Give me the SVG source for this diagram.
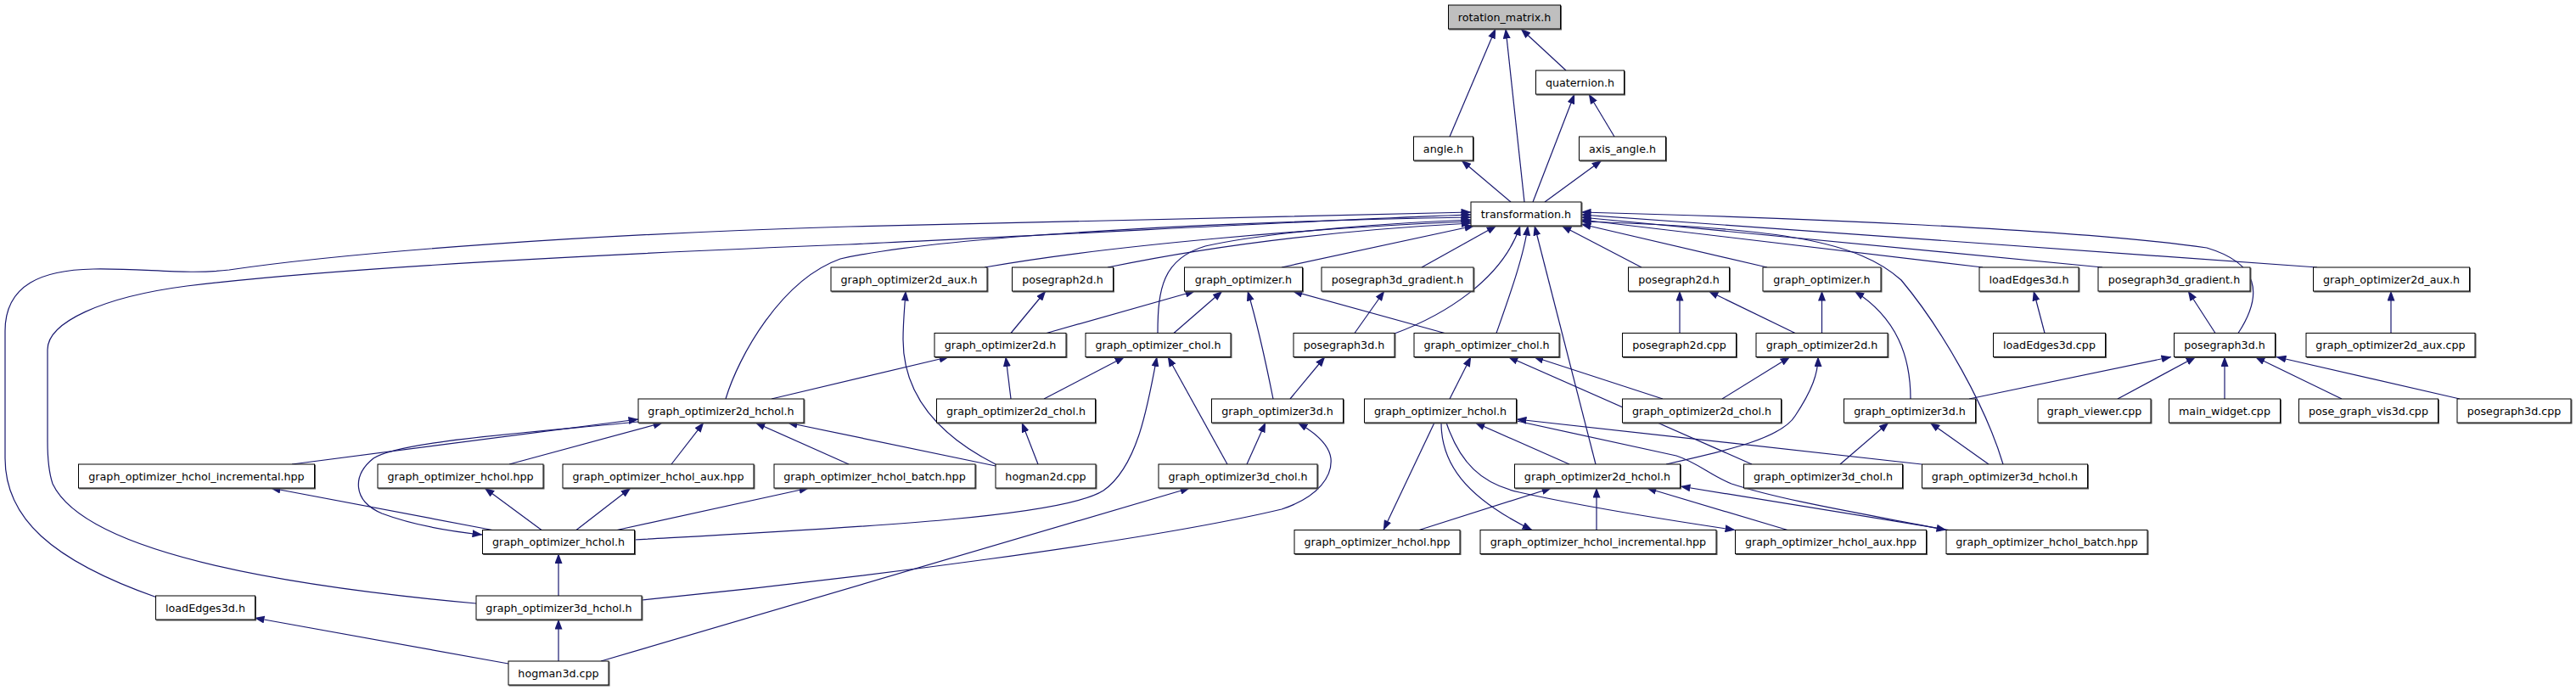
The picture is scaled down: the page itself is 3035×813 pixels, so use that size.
<svg xmlns="http://www.w3.org/2000/svg" width="3035" height="813" viewBox="0 0 3035 813">
<defs>
<marker id="ah" viewBox="0 0 12 9" refX="11.5" refY="4.5" markerWidth="12" markerHeight="9" markerUnits="userSpaceOnUse" orient="auto"><path d="M0,0L12,4.5L0,9z" fill="#191970"/></marker>
<filter id="sh" x="-5%" y="-20%" width="115%" height="150%"><feFlood flood-color="#555555"/><feComposite in2="SourceAlpha" operator="in"/><feOffset dx="1.2" dy="1.2"/><feMerge><feMergeNode/><feMergeNode in="SourceGraphic"/></feMerge></filter>
</defs>
<style>
.e{fill:none;stroke:#191970;stroke-width:1.2;marker-end:url(#ah)}
.n rect{fill:#fff;stroke:#000;stroke-width:1;filter:url(#sh)}
.n rect.root{fill:#bfbfbf}
.n text{font-family:"DejaVu Sans",sans-serif;font-size:12.7px;text-anchor:middle;fill:#000}
</style>
<rect width="3035" height="813" fill="#fff"/>
<g id="edges">
<path class="e" d="M1708,161 L1762,34"/>
<path class="e" d="M1796,238 L1774,34"/>
<path class="e" d="M1845,83 L1792,34"/>
<path class="e" d="M1780,238 L1722,189"/>
<path class="e" d="M1806,238 L1855,111"/>
<path class="e" d="M1902,161 L1872,111"/>
<path class="e" d="M1820,238 L1887,189"/>
<path class="e" d="M185,704 C60,660 6,610 6,540 L6,390 C6,335 50,318 110,317 C170,316 220,324 270,318 C420,296 700,276 1000,267 C1300,259 1600,252 1733,250"/>
<path class="e" d="M561,711 C330,690 100,650 62,570 C57,555 56,540 56,520 L56,412 C56,380 120,350 220,337 C400,315 700,300 1000,288 C1300,274 1600,257 1733,253"/>
<path class="e" d="M855,470 C870,420 920,330 990,305 C1100,280 1400,262 1733,256"/>
<path class="e" d="M1364,392.5 C1364,340 1370,305 1420,290 C1500,272 1650,262 1733,259"/>
<path class="e" d="M1160,315 C1300,290 1550,268 1733,261"/>
<path class="e" d="M1305,315 C1450,285 1600,270 1733,263"/>
<path class="e" d="M1510,315 L1737,266"/>
<path class="e" d="M1675,315 L1763,266"/>
<path class="e" d="M1643,393 C1700,372 1770,330 1791,266"/>
<path class="e" d="M1763,392.5 C1778,350 1796,300 1800,266"/>
<path class="e" d="M1880,547 L1808,266"/>
<path class="e" d="M1934,315 L1840,266"/>
<path class="e" d="M2082,315 L1863,264"/>
<path class="e" d="M2336,315 L1863,259"/>
<path class="e" d="M2477,315 L1863,256"/>
<path class="e" d="M2730,315 L1863,253"/>
<path class="e" d="M2637,392.5 C2668,345 2660,310 2600,292 C2450,270 2100,256 1863,250"/>
<path class="e" d="M2360,547 C2340,480 2290,390 2240,330 C2190,285 2100,268 1863,261"/>
<path class="e" d="M1191,392.5 L1232,343"/>
<path class="e" d="M1233,392.5 L1408,343"/>
<path class="e" d="M1383,392.5 L1440,343"/>
<path class="e" d="M1500,470 C1490,420 1478,370 1470,343"/>
<path class="e" d="M1702,392.5 L1523,343"/>
<path class="e" d="M1596,392.5 L1631,343"/>
<path class="e" d="M1520,470 L1561,420.5"/>
<path class="e" d="M1173,547 C1100,510 1064,460 1064,400 C1064,380 1066,360 1067,343"/>
<path class="e" d="M909,470 L1118,420.5"/>
<path class="e" d="M1191,470 L1185,420.5"/>
<path class="e" d="M1230,470 L1325,420.5"/>
<path class="e" d="M1223,547 L1204,498"/>
<path class="e" d="M1446,547 L1376,420.5"/>
<path class="e" d="M747,636 C1000,622 1250,610 1300,578 C1340,550 1352,480 1363,420.5"/>
<path class="e" d="M1469,547 L1491,498"/>
<path class="e" d="M756,707 C1000,683 1350,638 1510,600 C1555,585 1570,560 1568,540 C1566,525 1550,510 1529,498"/>
<path class="e" d="M708,779 L1402,575"/>
<path class="e" d="M1708,470 L1733,420.5"/>
<path class="e" d="M1959,470 L1807,420.5"/>
<path class="e" d="M2029,470 L2109,420.5"/>
<path class="e" d="M2168,547 L2225,498"/>
<path class="e" d="M2064,547 L1777,420.5"/>
<path class="e" d="M2264,547 L1787,494"/>
<path class="e" d="M1849,547 L1738,498"/>
<path class="e" d="M1690,498 L1630,624.5"/>
<path class="e" d="M1698,498 C1698,545 1725,585 1805,624.5"/>
<path class="e" d="M1704,498 C1720,545 1745,570 1790,580 C1870,598 1960,612 2044,624.5"/>
<path class="e" d="M1787,496 L1975,537 C2000,545 2015,560 2040,570 C2100,590 2200,606 2293,624.5"/>
<path class="e" d="M2296,624.5 L1980,573"/>
<path class="e" d="M1672,624.5 L1828,575"/>
<path class="e" d="M1881,624.5 L1881,575"/>
<path class="e" d="M2106,624.5 L1940,575"/>
<path class="e" d="M1963,547 C2040,530 2100,515 2115,490 C2135,460 2142,440 2142,420.5"/>
<path class="e" d="M2115,392.5 L2013,343"/>
<path class="e" d="M1979,392.5 L1979,343"/>
<path class="e" d="M2146.5,392.5 L2146.5,343"/>
<path class="e" d="M2251,470 C2251,420 2235,375 2185,343"/>
<path class="e" d="M2409,392.5 L2396,343"/>
<path class="e" d="M2610,392.5 L2578,343"/>
<path class="e" d="M2817,392.5 L2817,343"/>
<path class="e" d="M2320,470 L2558,420.5"/>
<path class="e" d="M2495,470 L2587,420.5"/>
<path class="e" d="M2621,470 L2621,420.5"/>
<path class="e" d="M2759,470 L2657,420.5"/>
<path class="e" d="M2898,470 L2682,420.5"/>
<path class="e" d="M2343,547 L2274,498"/>
<path class="e" d="M344,547 L752,494"/>
<path class="e" d="M752,497 C620,510 470,520 440,540 C415,560 415,590 450,605 C490,620 530,626 568,630"/>
<path class="e" d="M600,547 L781,498"/>
<path class="e" d="M791,547 L829,498"/>
<path class="e" d="M1000,547 L890,498"/>
<path class="e" d="M1173,549 L928,498"/>
<path class="e" d="M580,624.5 L319,575"/>
<path class="e" d="M638,624.5 L571,575"/>
<path class="e" d="M679,624.5 L743,575"/>
<path class="e" d="M727,624.5 L953,575"/>
<path class="e" d="M658,702 L658,652.5"/>
<path class="e" d="M658,779 L658,730"/>
<path class="e" d="M599,782 L300,728"/>
</g>
<g id="n_rotation_matrix" class="n"><rect class="root" x="1706.5" y="6" width="132" height="28"/><text x="1772.5" y="24.5">rotation_matrix.h</text></g>
<g id="n_quaternion" class="n"><rect x="1809.5" y="83" width="104" height="28"/><text x="1861.5" y="101.5">quaternion.h</text></g>
<g id="n_angle" class="n"><rect x="1665.5" y="161" width="70" height="28"/><text x="1700.5" y="179.5">angle.h</text></g>
<g id="n_axis_angle" class="n"><rect x="1860.5" y="161" width="102" height="28"/><text x="1911.5" y="179.5">axis_angle.h</text></g>
<g id="n_transformation" class="n"><rect x="1733" y="238" width="130" height="28"/><text x="1798" y="256.5">transformation.h</text></g>
<g id="n_go2d_aux_h_1" class="n"><rect x="979" y="315" width="184" height="28"/><text x="1071" y="333.5">graph_optimizer2d_aux.h</text></g>
<g id="n_posegraph2d_h_1" class="n"><rect x="1192.5" y="315" width="119" height="28"/><text x="1252" y="333.5">posegraph2d.h</text></g>
<g id="n_go_h_1" class="n"><rect x="1395.5" y="315" width="139" height="28"/><text x="1465" y="333.5">graph_optimizer.h</text></g>
<g id="n_pg3d_grad_1" class="n"><rect x="1557" y="315" width="179" height="28"/><text x="1646.5" y="333.5">posegraph3d_gradient.h</text></g>
<g id="n_posegraph2d_h_2" class="n"><rect x="1918.5" y="315" width="119" height="28"/><text x="1978" y="333.5">posegraph2d.h</text></g>
<g id="n_go_h_2" class="n"><rect x="2077" y="315" width="139" height="28"/><text x="2146.5" y="333.5">graph_optimizer.h</text></g>
<g id="n_loadEdges3d_h_1" class="n"><rect x="2332" y="315" width="117" height="28"/><text x="2390.5" y="333.5">loadEdges3d.h</text></g>
<g id="n_pg3d_grad_2" class="n"><rect x="2472" y="315" width="179" height="28"/><text x="2561.5" y="333.5">posegraph3d_gradient.h</text></g>
<g id="n_go2d_aux_h_2" class="n"><rect x="2725.5" y="315" width="184" height="28"/><text x="2817.5" y="333.5">graph_optimizer2d_aux.h</text></g>
<g id="n_go2d_h_1" class="n"><rect x="1101" y="392.5" width="155" height="28"/><text x="1178.5" y="411">graph_optimizer2d.h</text></g>
<g id="n_gochol_h_1" class="n"><rect x="1279" y="392.5" width="171" height="28"/><text x="1364.5" y="411">graph_optimizer_chol.h</text></g>
<g id="n_posegraph3d_h_1" class="n"><rect x="1524" y="392.5" width="119" height="28"/><text x="1583.5" y="411">posegraph3d.h</text></g>
<g id="n_gochol_h_2" class="n"><rect x="1666" y="392.5" width="171" height="28"/><text x="1751.5" y="411">graph_optimizer_chol.h</text></g>
<g id="n_posegraph2d_cpp" class="n"><rect x="1911.5" y="392.5" width="134" height="28"/><text x="1978.5" y="411">posegraph2d.cpp</text></g>
<g id="n_go2d_h_2" class="n"><rect x="2069" y="392.5" width="155" height="28"/><text x="2146.5" y="411">graph_optimizer2d.h</text></g>
<g id="n_loadEdges3d_cpp" class="n"><rect x="2348.5" y="392.5" width="132" height="28"/><text x="2414.5" y="411">loadEdges3d.cpp</text></g>
<g id="n_posegraph3d_h_2" class="n"><rect x="2561.5" y="392.5" width="119" height="28"/><text x="2621" y="411">posegraph3d.h</text></g>
<g id="n_go2d_aux_cpp" class="n"><rect x="2717" y="392.5" width="199" height="28"/><text x="2816.5" y="411">graph_optimizer2d_aux.cpp</text></g>
<g id="n_go2d_hchol_h_1" class="n"><rect x="752" y="470" width="195" height="28"/><text x="849.5" y="488.5">graph_optimizer2d_hchol.h</text></g>
<g id="n_go2d_chol_h_1" class="n"><rect x="1103.5" y="470" width="187" height="28"/><text x="1197" y="488.5">graph_optimizer2d_chol.h</text></g>
<g id="n_go3d_h_1" class="n"><rect x="1427.5" y="470" width="155" height="28"/><text x="1505" y="488.5">graph_optimizer3d.h</text></g>
<g id="n_gohchol_h_2" class="n"><rect x="1607.5" y="470" width="179" height="28"/><text x="1697" y="488.5">graph_optimizer_hchol.h</text></g>
<g id="n_go2d_chol_h_2" class="n"><rect x="1911.5" y="470" width="187" height="28"/><text x="2005" y="488.5">graph_optimizer2d_chol.h</text></g>
<g id="n_go3d_h_2" class="n"><rect x="2172.5" y="470" width="155" height="28"/><text x="2250" y="488.5">graph_optimizer3d.h</text></g>
<g id="n_graph_viewer" class="n"><rect x="2401" y="470" width="133" height="28"/><text x="2467.5" y="488.5">graph_viewer.cpp</text></g>
<g id="n_main_widget" class="n"><rect x="2555.5" y="470" width="131" height="28"/><text x="2621" y="488.5">main_widget.cpp</text></g>
<g id="n_pose_graph_vis3d" class="n"><rect x="2708.5" y="470" width="164" height="28"/><text x="2790.5" y="488.5">pose_graph_vis3d.cpp</text></g>
<g id="n_posegraph3d_cpp" class="n"><rect x="2895" y="470" width="134" height="28"/><text x="2962" y="488.5">posegraph3d.cpp</text></g>
<g id="n_inc_hpp_1" class="n"><rect x="92.5" y="547" width="278" height="28"/><text x="231.5" y="565.5">graph_optimizer_hchol_incremental.hpp</text></g>
<g id="n_hchol_hpp_1" class="n"><rect x="445" y="547" width="195" height="28"/><text x="542.5" y="565.5">graph_optimizer_hchol.hpp</text></g>
<g id="n_aux_hpp_1" class="n"><rect x="663" y="547" width="225" height="28"/><text x="775.5" y="565.5">graph_optimizer_hchol_aux.hpp</text></g>
<g id="n_batch_hpp_1" class="n"><rect x="912" y="547" width="237" height="28"/><text x="1030.5" y="565.5">graph_optimizer_hchol_batch.hpp</text></g>
<g id="n_hogman2d" class="n"><rect x="1173" y="547" width="118" height="28"/><text x="1232" y="565.5">hogman2d.cpp</text></g>
<g id="n_go3d_chol_h_1" class="n"><rect x="1365" y="547" width="187" height="28"/><text x="1458.5" y="565.5">graph_optimizer3d_chol.h</text></g>
<g id="n_go2d_hchol_h_2" class="n"><rect x="1784.5" y="547" width="195" height="28"/><text x="1882" y="565.5">graph_optimizer2d_hchol.h</text></g>
<g id="n_go3d_chol_h_2" class="n"><rect x="2054.5" y="547" width="187" height="28"/><text x="2148" y="565.5">graph_optimizer3d_chol.h</text></g>
<g id="n_go3d_hchol_h_2" class="n"><rect x="2264.5" y="547" width="195" height="28"/><text x="2362" y="565.5">graph_optimizer3d_hchol.h</text></g>
<g id="n_gohchol_h_1" class="n"><rect x="568.5" y="624.5" width="179" height="28"/><text x="658" y="643">graph_optimizer_hchol.h</text></g>
<g id="n_hchol_hpp_2" class="n"><rect x="1525" y="624.5" width="195" height="28"/><text x="1622.5" y="643">graph_optimizer_hchol.hpp</text></g>
<g id="n_inc_hpp_2" class="n"><rect x="1744" y="624.5" width="278" height="28"/><text x="1883" y="643">graph_optimizer_hchol_incremental.hpp</text></g>
<g id="n_aux_hpp_2" class="n"><rect x="2044.5" y="624.5" width="225" height="28"/><text x="2157" y="643">graph_optimizer_hchol_aux.hpp</text></g>
<g id="n_batch_hpp_2" class="n"><rect x="2293" y="624.5" width="237" height="28"/><text x="2411.5" y="643">graph_optimizer_hchol_batch.hpp</text></g>
<g id="n_loadEdges3d_h_2" class="n"><rect x="183.5" y="702" width="117" height="28"/><text x="242" y="720.5">loadEdges3d.h</text></g>
<g id="n_go3d_hchol_h_1" class="n"><rect x="561" y="702" width="195" height="28"/><text x="658.5" y="720.5">graph_optimizer3d_hchol.h</text></g>
<g id="n_hogman3d" class="n"><rect x="599" y="779" width="118" height="28"/><text x="658" y="797.5">hogman3d.cpp</text></g>
</svg>
